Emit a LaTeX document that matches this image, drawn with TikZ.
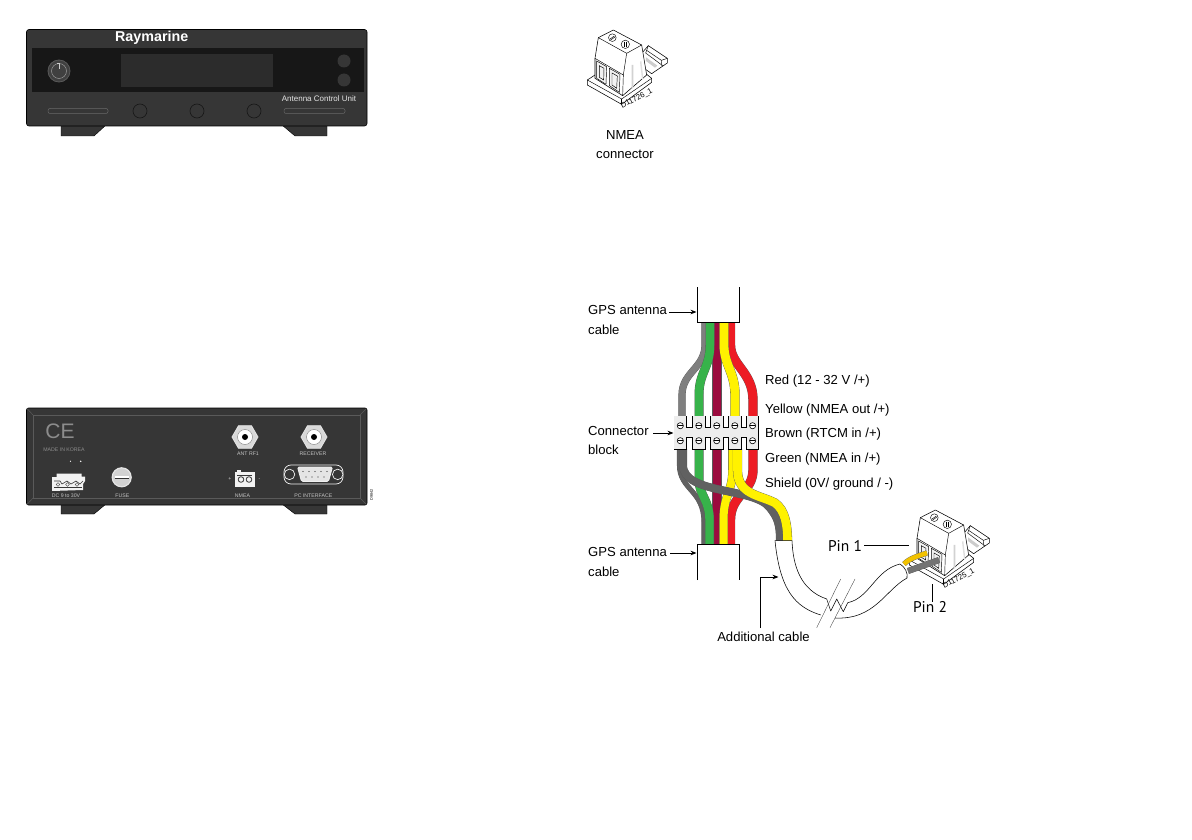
\documentclass[tikz,border=0pt]{standalone}
\usepackage{fontspec}
\setmainfont{Liberation Sans}
\newfontfamily\pinfont{PT Sans}
\usetikzlibrary{arrows.meta}
\definecolor{facecol}{HTML}{363636}
\definecolor{bandcol}{HTML}{171717}
\definecolor{dispcol}{HTML}{2C2C2C}
\definecolor{edgecol}{HTML}{5A5A5A}
\definecolor{slotcol}{HTML}{686868}
\definecolor{backtxt}{HTML}{C4C4C4}
\definecolor{markcol}{HTML}{8C8C8C}
\definecolor{wgray}{HTML}{7F7F7F}
\definecolor{wgreen}{HTML}{37B34A}
\definecolor{wbrown}{HTML}{9B0B3E}
\definecolor{wyellow}{HTML}{FFF200}
\definecolor{wred}{HTML}{ED1C24}
\definecolor{wgold}{HTML}{F2C200}
\definecolor{blockcol}{HTML}{EDEDED}
\tikzset{
  lab/.style={inner sep=0pt,align=left,anchor=west,font=\fontsize{13.1}{19.5}\selectfont},
  pinlab/.style={inner sep=0pt,font=\pinfont\fontsize{15.5}{18}\selectfont},
  backlab/.style={inner sep=0pt,text=backtxt,font=\fontsize{5.2}{6}\selectfont},
  arr/.style={line width=.8pt,-{Stealth[length=6pt,width=4.6pt]}},
  lead/.style={line width=.8pt},
  wirex/.style 2 args={draw=black!65,line width=.3pt,double=#1,double distance=#2},
  conn/.style={draw=black,line width=.55pt,fill=white,line join=round},
  thin line/.style={draw=black,line width=.45pt},
  foot/.style={fill=facecol,draw=black,line width=.4pt}
}
\newcommand{\termblock}[4]{%
\begin{scope}[shift={(#1,#2)},x=.3333pt,y=-.3333pt]
  % plug
  \draw[conn] (185,85) -- (205,62) -- (262,100) -- (262,114) -- (215,146) -- (195,132) -- cycle;
  \draw[thin line] (205,62) -- (197,84) -- (248,122);
  \draw[thin line] (200,76) -- (244,106) -- (262,100);
  \draw[thin line] (244,106) -- (246,124);
  \fill[gray!40] (198,97) -- (232,122) -- (225,128) -- (198,108) -- cycle;
  % base
  \draw[conn] (22,165) -- (45,150) -- (200,148) -- (215,160) -- (215,172) -- (125,238) -- (22,180) -- cycle;
  \draw[thin line] (22,165) -- (125,222) -- (215,160);
  \draw[thin line] (125,222) -- (125,238);
  % body
  \draw[conn] (55,38) -- (100,15) -- (185,60) -- (200,150) -- (128,212) -- (45,160) -- (45,100) -- cycle;
  \draw[thin line] (55,38) -- (140,85) -- (185,60);
  \draw[thin line] (140,85) -- (130,150) -- (45,100);
  \draw[thin line] (130,150) -- (128,212);
  \fill[gray!35] (155,120) -- (160,120) -- (160,188) -- (155,192) -- cycle;
  \fill[gray!25] (180,110) -- (184,108) -- (190,160) -- (186,163) -- cycle;
  % windows
  \draw[thin line,fill=gray!10] (50,108) -- (80,125) -- (78,178) -- (50,160) -- cycle;
  \draw[thin line] (58,122) -- (72,130) -- (71,165) -- (58,157) -- cycle;
  \draw[thin line,fill=gray!10] (88,130) -- (120,148) -- (118,202) -- (88,182) -- cycle;
  \draw[thin line] (96,144) -- (112,153) -- (110,190) -- (96,180) -- cycle;
  % screws
  \draw[thin line] (97,38) circle (11.5);
  \draw[thin line] (90,42) -- (103,33) (92,45) -- (105,36);
  \draw[thin line] (136,58) circle (12.5);
  \draw[line width=.7pt] (132,50) -- (132,66) (139,50) -- (139,66);
  \node[inner sep=0pt,rotate=28,font=\fontsize{7.6}{8}\selectfont] (#3) at (170,221) {#4};
\end{scope}}
\begin{document}
\begin{tikzpicture}[x=1pt,y=-1pt]
\useasboundingbox[fill=white] (0,0) rectangle (1192,840);

%%% FRONT UNIT
\draw[foot] (61,125) -- (106,125) -- (94,136) -- (61,136) -- cycle;
\draw[foot] (282,125) -- (327,125) -- (327,136) -- (295,136) -- cycle;
\draw[fill=facecol,draw=black,line width=.6pt,rounded corners=2.5pt] (26.5,29.5) rectangle (367,126);
\fill[bandcol] (32,48) rectangle (364,92);
\fill[dispcol] (121,54) rectangle (273,87);
\node[inner sep=0pt,text=white,font=\bfseries\fontsize{14.3}{15}\selectfont] (brand) at (151.7,37.5) {Raymarine};
% power knob
\node[circle,minimum size=22pt,inner sep=0pt,fill=black!75,draw=gray!70!black,line width=.8pt] (knob) at (59,71) {};
\draw[draw=gray!80,line width=.5pt] (knob.center) circle (7.5);
\draw[draw=white!80!black,line width=.6pt] (57,63.5) -- (59,63.5) -- (59,69);
\node[circle,minimum size=13pt,inner sep=0pt,fill=facecol] (btnA) at (344,61) {};
\node[circle,minimum size=13pt,inner sep=0pt,fill=facecol] (btnB) at (344,80) {};
\foreach \x/\n in {140/a,197/b,254/c}
  \node[circle,minimum size=14pt,inner sep=0pt,draw=bandcol,line width=.6pt] (keyf\n) at (\x,111) {};
\draw[draw=slotcol,line width=.5pt,rounded corners=2pt] (48,108.5) rectangle (108,113.5);
\draw[draw=slotcol,line width=.5pt,rounded corners=2pt] (284,108.5) rectangle (345,113.5);
\node[inner sep=0pt,text=white!90!black,font=\fontsize{8}{9}\selectfont] (acu) at (319,99) {Antenna Control Unit};

%%% BACK UNIT
\draw[foot] (61,504) -- (106,504) -- (94,514) -- (61,514) -- cycle;
\draw[foot] (282,504) -- (327,504) -- (327,514) -- (295,514) -- cycle;
\draw[fill=facecol,draw=black,line width=.6pt,rounded corners=2pt] (26.5,408) rectangle (367,505);
\draw[draw=edgecol,line width=.5pt] (33,415) rectangle (360,498);
\draw[draw=edgecol,line width=.5pt] (27,408.5) -- (33,415) (366.5,408.5) -- (360,415) (27,504.5) -- (33,498) (366.5,504.5) -- (360,498);
% CE mark
\node[inner sep=0pt,text=markcol,font=\fontsize{21}{22}\selectfont] (ce) at (60,431) {CE};
\node[backlab,text=markcol] (korea) at (64,450) {MADE IN KOREA};
\node[circle,fill=white,minimum size=1.3pt,inner sep=0pt] (dotA) at (70.5,461.3) {};
\node[circle,fill=white,minimum size=1.6pt,inner sep=0pt] (dotB) at (80.7,461.3) {};
% DC connector
\draw[fill=white!95!black,draw=none] (56.5,473.5) -- (81.5,473.5) -- (81.5,476.7) -- (85,476.7) -- (85,481) -- (83,484) -- (83,490) -- (52,491) -- (52,477) -- (56.5,477) -- cycle;
\draw[draw=facecol,line width=.6pt] (54,481) -- (60,481) -- (62,484) -- (67,481) -- (71,484) -- (76,481) -- (80,484) -- (83,481);
\draw[draw=facecol,line width=.5pt] (54,487) -- (82,487);
\foreach \x/\n in {58/a,67.5/b,77/c}
  \node[circle,draw=facecol,line width=.4pt,minimum size=3.6pt,inner sep=0pt] (dcpin\n) at (\x,484.5) {};
\node[backlab] (dcl) at (66,495.7) {DC 9 to 30V};
% fuse
\node[circle,minimum size=19pt,inner sep=0pt,fill=gray!35,draw=white!90!black,line width=1.2pt] (fuse) at (121.7,477.3) {};
\fill[white] (114.5,476) rectangle (129,478.6);
\draw[draw=black!80,line width=.5pt] (114.5,478.6) -- (129,478.6);
\node[backlab] (fusel) at (122.3,495.7) {FUSE};
% coax
\foreach \x/\n/\t/\lx/\ly in {245/a/ANT RF1/248/454,314/b/RECEIVER/313/453.5}{
  \draw[fill=gray!30,draw=white!90!black,line width=.8pt] (\x,437)+(0:13) -- +(60:13) -- +(120:13) -- +(180:13) -- +(240:13) -- +(300:13) -- cycle;
  \node[circle,minimum size=15pt,inner sep=0pt,fill=white,draw=black!50,line width=.4pt] (coax\n) at (\x,437) {};
  \node[circle,minimum size=6pt,inner sep=0pt,fill=black] (coaxin\n) at (\x,437) {};
  \node[backlab] (coaxl\n) at (\lx,\ly) {\t};
}
% NMEA socket
\fill[white!95!black] (235,472) rectangle (254.5,486.7);
\fill[white!95!black] (236.5,469.5) rectangle (241,472);
\foreach \x/\n in {241/a,249/b}{
  \draw[draw=facecol,line width=.8pt] (\x,479.5) circle (2.8);
}
\draw[draw=facecol,line width=.6pt] (237,475) -- (252,475);
\node[backlab] (plusl) at (230,479) {+};
\node[backlab] (minusl) at (259.5,479.5) {-};
\node[backlab] (nmeal) at (242.5,495.7) {NMEA};
% D-sub
\draw[draw=white!95!black,line width=.7pt,rounded corners=7pt,fill=facecol] (284,465) rectangle (343,484);
\node[circle,minimum size=10.5pt,inner sep=0pt,fill=facecol,draw=white!95!black,line width=.7pt] (dsubl) at (289.5,474.4) {};
\node[circle,minimum size=10.5pt,inner sep=0pt,fill=facecol,draw=white!95!black,line width=.7pt] (dsubr) at (337.7,474.4) {};
\draw[draw=white!95!black,line width=.8pt,fill=gray!20,rounded corners=1.5pt] (297.5,467) -- (332.5,467) -- (328.5,481.5) -- (301.5,481.5) -- cycle;
\foreach \x in {303,309,315,321,327} \fill[black!80] (\x,471.5) circle (.7);
\foreach \x in {306,312,318,324} \fill[black!80] (\x,477) circle (.7);
\node[backlab] (pcl) at (313.3,495.7) {PC INTERFACE};
\node[inner sep=0pt,rotate=90,text=black,font=\fontsize{3.8}{4}\selectfont] (figno) at (371.5,495) {D9842};

%%% NMEA CONNECTOR
\termblock{580}{25}{dA}{D11726\_1}
\node[inner sep=0pt,font=\fontsize{13.1}{19}\selectfont,align=center] (nmeac) at (625,144.5) {NMEA\\connector};

%%% WIRES ABOVE THE BLOCK
\draw[wirex={wbrown}{8.8pt}] (717,322) -- (717,417);
\draw[wirex={wred}{8.8pt}] (730.5,322) -- (730.5,345) .. controls (730.5,365) and (753,372) .. (753,400) -- (753,417);
\draw[wirex={wyellow}{8.8pt}] (724,322) -- (724,345) .. controls (724,365) and (735,372) .. (735,395) -- (735,417);
\draw[wirex={wgray}{6.6pt}] (705,322) -- (705,345) .. controls (705,368) and (682,372) .. (682,395) -- (682,417);
\draw[wirex={wgreen}{8.4pt}] (710,322) -- (710,345) .. controls (710,368) and (699,372) .. (699,395) -- (699,417);

%%% WIRES BELOW THE BLOCK
\draw[wirex={wbrown}{8.8pt}] (717,449) -- (717,544);
\draw[wirex={wred}{8.8pt}] (753,449) -- (753,470) .. controls (753,492) and (730.5,495) .. (730.5,520) -- (730.5,544);
\draw[wirex={wyellow}{8pt}] (732.5,449) -- (732.5,470) .. controls (732.5,492) and (723.5,495) .. (723.5,520) -- (723.5,544);
\draw[wirex={black!62!white}{4.5pt}] (679.5,449) -- (679.5,465) .. controls (679.5,490) and (704,490) .. (704,522) -- (704,544);
\draw[wirex={wgreen}{8.4pt}] (699,449) -- (699,480) .. controls (699,495) and (709.5,500) .. (709.5,520) -- (709.5,544);
\draw[wirex={black!62!white}{7.4pt}] (683,449) -- (683,465) .. controls (683,495) and (755,487) .. (770,508) .. controls (778,518) and (780,525) .. (780,541);
\draw[wirex={wyellow}{8.6pt}] (737.5,449) -- (737.5,470) .. controls (737.5,495) and (760,495) .. (775,503) .. controls (785,510) and (787.5,525) .. (787.5,541);

%%% CABLE STUBS
\draw[fill=white,line width=.8pt] (697,287) -- (697,322.5) -- (739,322.5) -- (739,287);
\draw[fill=white,line width=.8pt] (697,580) -- (697,544) -- (739,544) -- (739,580);

%%% CONNECTOR BLOCK
\foreach \x in {680.3,698.8,716.7,734.8,752.6}
  \draw[line width=.7pt] (\x-6.2,416) rectangle (\x+6.2,449.3);
\draw[line width=.7pt] (676,427.3) rectangle (756,436.9);
\foreach \x in {680.3,698.8,716.7,734.8,752.6}
  \fill[blockcol] (\x-5.85,416.35) rectangle (\x+5.85,448.95);
\fill[blockcol] (676.35,427.65) rectangle (755.65,436.55);
\foreach \x in {680.3,698.8,716.7,734.8,752.6}
  \foreach \y in {425.7,440.7}{
    \draw[line width=.6pt,fill=white] (\x,\y) circle (3.1);
    \draw[line width=.8pt] (\x-2.8,\y) -- (\x+2.8,\y);
  }

%%% TERMINAL BLOCK ON ADDITIONAL CABLE
\termblock{902}{505}{dB}{D11725\_1}
\draw[wirex={wgold}{4.6pt}] (904,564) .. controls (910,558) and (918,556) .. (927,553);
\draw[wirex={black!55!white}{5.6pt}] (908,571) -- (939,560);

%%% ADDITIONAL CABLE
\fill[white] (775,540.7) -- (792,540.7) .. controls (793,565) and (800,590) .. (826.7,599)
  -- (830.7,611) -- (836.7,599) -- (843.3,611.7) -- (847.7,602.7)
  .. controls (870,598) and (875,570) .. (900,564)
  .. controls (905,567) and (908,573) .. (907,578)
  .. controls (885,590) and (875,620) .. (835,618)
  -- (820.7,615) .. controls (795,607) and (780,590) .. (775,540.7);
\draw[line width=.55pt,line join=round] (820.7,615) .. controls (795,607) and (780,590) .. (775,540.7) -- (792,540.7) .. controls (793,565) and (800,590) .. (826.7,599)
  -- (830.7,611) -- (836.7,599) -- (843.3,611.7) -- (847.7,602.7)
  .. controls (870,598) and (875,570) .. (900,564)
  .. controls (905,567) and (908,573) .. (907,578)
  .. controls (885,590) and (875,620) .. (835,618);
\draw[line width=.35pt,draw=black!75] (840.7,579) -- (816.7,627.7);
\draw[line width=.35pt,draw=black!75] (855,579) -- (830,627.7);

%%% LABELS AND LEADERS
\node[lab] (gpsT) at (588,320) {GPS antenna\\cable};
\node[lab] (blockL) at (588,440.5) {Connector\\block};
\node[lab] (gpsB) at (588,562) {GPS antenna\\cable};
\node[lab] (redL) at (765,381.5) {Red (12 - 32 V /+)};
\node[lab] (yelL) at (765,410.5) {Yellow (NMEA out /+)};
\node[lab] (broL) at (765,434.5) {Brown (RTCM in /+)};
\node[lab] (greL) at (765,459.5) {Green (NMEA in /+)};
\node[lab] (shiL) at (765,484.5) {Shield (0V/ ground / -)};
\node[inner sep=0pt,font=\fontsize{13.1}{15}\selectfont] (addL) at (763.5,637) {Additional cable};
\node[pinlab] (pinA) at (845,546) {Pin 1};
\node[pinlab] (pinB) at (930,607) {Pin 2};

\coordinate (gpsTs) at (669,312);
\coordinate (gpsTe) at (696.5,312);
\coordinate (blocks) at (653,433);
\coordinate (blocke) at (673.5,433);
\coordinate (gpsBs) at (670,553);
\coordinate (gpsBe) at (696.5,553);
\coordinate (adds) at (760,628);
\coordinate (addk) at (760,577);
\coordinate (adde) at (778.5,577);
\coordinate (pinAs) at (864,545);
\coordinate (pinAe) at (909,545);
\coordinate (pinBs) at (932,584);
\coordinate (pinBe) at (932,602);
\draw[arr] (gpsTs) -- (gpsTe);
\draw[arr] (blocks) -- (blocke);
\draw[arr] (gpsBs) -- (gpsBe);
\draw[arr] (adds) -- (addk) -- (adde);
\draw[lead] (pinAs) -- (pinAe);
\draw[lead] (pinBs) -- (pinBe);
\end{tikzpicture}
\end{document}
